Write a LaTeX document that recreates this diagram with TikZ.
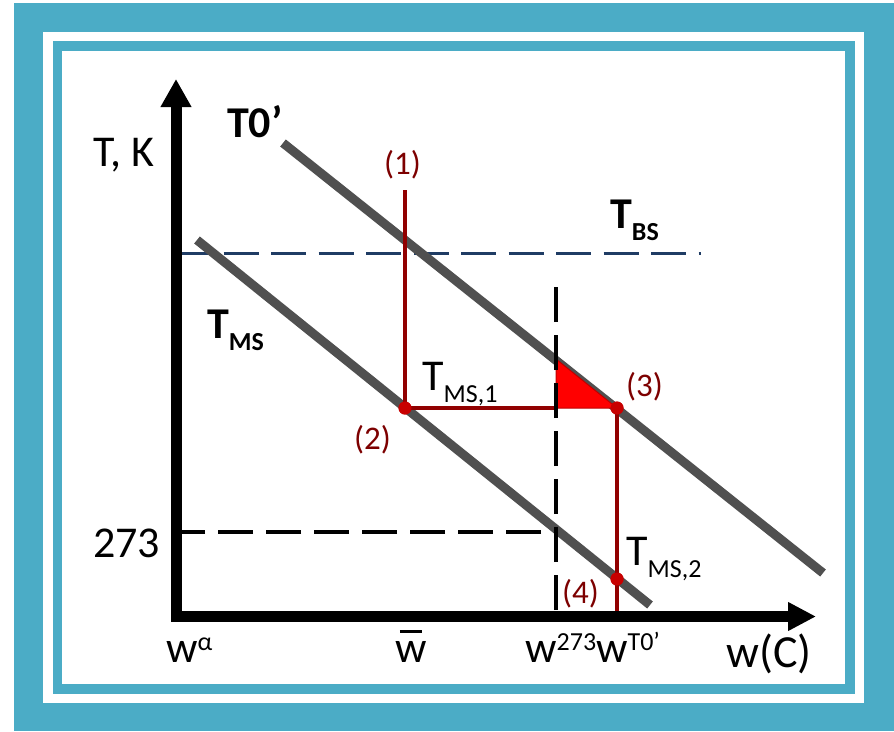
\documentclass[tikz,border=0pt]{standalone}
\usepackage{fontspec}
\setmainfont{Carlito}
\usetikzlibrary{arrows.meta}
\definecolor{tealframe}{RGB}{75,172,198}
\definecolor{greyln}{RGB}{80,80,80}
\definecolor{redln}{RGB}{145,0,0}
\definecolor{reddot}{RGB}{200,0,0}
\definecolor{lblred}{RGB}{125,0,0}
\definecolor{navyln}{RGB}{31,60,100}
\newcommand{\bigf}{\fontsize{44}{44}\selectfont}
\newcommand{\subf}{\fontsize{26}{26}\selectfont}
\newcommand{\numf}{\fontsize{33}{33}\selectfont}
\newcommand{\sbs}[1]{\raisebox{-12.5pt}{\subf #1}}
\newcommand{\sps}[1]{\raisebox{12pt}{\subf #1}}
\newcommand{\wbar}{\rlap{\hspace{4.7pt}\raisebox{29.5pt}{\rule{22pt}{3pt}}}w}
\begin{document}
\begin{tikzpicture}[x=1pt,y=-1pt,
  lbl/.style={inner sep=0pt, anchor=base west, font=\bigf},
  blbl/.style={inner sep=0pt, anchor=base west, font=\bigf\bfseries},
  numlbl/.style={inner sep=0pt, anchor=base west, font=\numf, text=lblred},
  greyline/.style={line width=9pt, draw=greyln},
  redline/.style={line width=4pt, draw=redln},
  reddotnode/.style={circle, fill=reddot, minimum size=13pt, inner sep=0pt},
  bdash/.style={line width=4pt, draw=black, dash pattern=on 35pt off 13pt},
  ndash/.style={line width=3pt, draw=navyln, dash pattern=on 35pt off 12.5pt},
  axisline/.style={line width=11pt, draw=black,
     {Triangle[length=28pt,width=29pt]}-{Triangle[length=28pt,width=27pt]}}]
\useasboundingbox (0,0) rectangle (894,731);
% frame
\fill[white] (0,0) rectangle (894,731);
\fill[tealframe] (14,3) rectangle (894,731);
\fill[white] (43,32) rectangle (864,703);
\fill[tealframe] (53,41) rectangle (855,694);
\fill[white] (62,51) rectangle (845,684);
% coordinates
\coordinate (ytip) at (176,79);
\coordinate (O) at (176,616.5);
\coordinate (xtip) at (816,616.5);
\coordinate (a1) at (283,143);
\coordinate (a2) at (823,573);
\coordinate (b1) at (197,240);
\coordinate (b2) at (650,605);
\coordinate (bsL) at (176,253);
\coordinate (bsR) at (701,253);
\coordinate (vd1) at (556,610);
\coordinate (vd2) at (556,287);
\coordinate (hd1) at (541,532);
\coordinate (hd2) at (180,532);
\coordinate (top1) at (405,190);
\coordinate (tri1) at (556,359);
\coordinate (tri2) at (556,408);
\coordinate (foot3) at (617,612);
% dashed lines
\draw[ndash] (bsL) -- (bsR);
% grey lines
\draw[greyline] (a1) -- (a2);
\draw[greyline] (b1) -- (b2);
% red construction
\node[reddotnode] (p2) at (405,408) {};
\node[reddotnode] (p3) at (617,408) {};
\node[reddotnode] (p4) at (617,579) {};
\draw[redline] (top1) -- (p2.center) -- (tri2);
\draw[redline] (p3.center) -- (foot3);
\fill[red, draw=red!75!black, line width=1pt] (tri1) -- (tri2) -- (p3.center) -- cycle;
\draw[bdash] (vd1) -- (vd2);
\draw[bdash] (hd1) -- (hd2);
\node[reddotnode] at (p2) {};
\node[reddotnode] at (p3) {};
\node[reddotnode] at (p4) {};
% axes
\draw[axisline] (ytip) -- (O) -- (xtip);
% labels
\node[lbl] (tk) at (93,166) {T, K};
\node[blbl] (t0) at (227,137) {T0’};
\node[numlbl] (n1) at (384,174) {(1)};
\node[blbl] (tbs) at (610,228) {T\sbs{BS}};
\node[blbl] (tms) at (207,338) {T\sbs{MS}};
\node[lbl] (tms1) at (422,390) {T\sbs{MS,1}};
\node[numlbl] (n2) at (354,449) {(2)};
\node[numlbl] (n3) at (626,396) {(3)};
\node[lbl] (tms2) at (626,565) {T\sbs{MS,2}};
\node[numlbl] (n4) at (562,603) {(4)};
\node[lbl] (t273) at (93,557) {273};
\node[lbl] (wa) at (166,662) {w\sps{α}};
\node[lbl] (wb) at (395,662) {\wbar};
\node[lbl] (w273) at (525,662) {w\sps{273}w\sps{T0’}};
\node[lbl, font=\fontsize{46}{46}\selectfont] (wc) at (726,667) {w(C)};
\end{tikzpicture}
\end{document}
